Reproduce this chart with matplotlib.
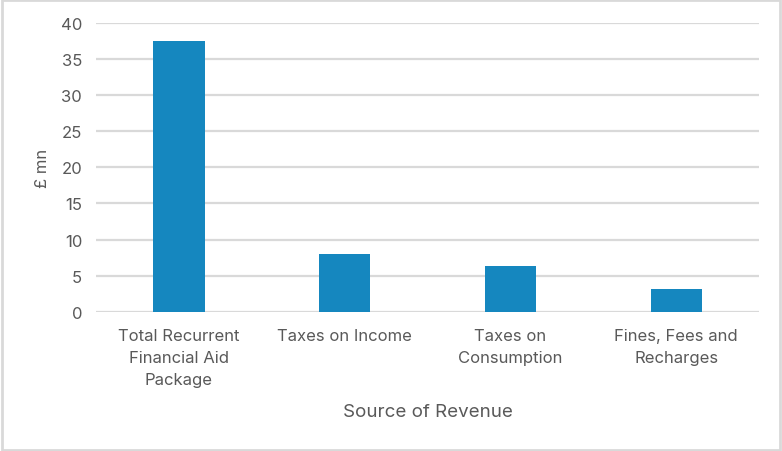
"""
Bar chart of revenue sources (£ mn)
"""

import matplotlib
matplotlib.use('Agg')
import matplotlib.pyplot as plt
from matplotlib.patches import Rectangle

# Data
CATEGORIES = [
    'Total Recurrent\nFinancial Aid\nPackage',
    'Taxes on Income',
    'Taxes on\nConsumption',
    'Fines, Fees and\nRecharges'
]
VALUES = [37.5, 8.0, 6.3, 3.1]
Y_TICKS = [0, 5, 10, 15, 20, 25, 30, 35, 40]

BAR_COLOR = '#1587BF'
TEXT_COLOR = '#595959'
GRID_COLOR = '#D9D9D9'

plt.rcParams['font.family'] = ['Inter', 'DejaVu Sans']

fig = plt.figure(figsize=(7.82, 4.52), dpi=100)
ax = fig.add_axes([0.1228, 0.308, 0.848, 0.6396])

x = range(len(CATEGORIES))
ax.bar(x, VALUES, width=0.31, color=BAR_COLOR, zorder=3)

ax.set_xlim(-0.5, len(CATEGORIES) - 0.5)
ax.set_ylim(0, 40)
ax.set_yticks(Y_TICKS)
ax.set_xticks(list(x))
ax.set_xticklabels(CATEGORIES, fontsize=12, color=TEXT_COLOR, linespacing=1.55)
ax.tick_params(axis='y', labelsize=12, labelcolor=TEXT_COLOR, length=0, pad=10)
ax.tick_params(axis='x', length=0, pad=12)

ax.grid(axis='y', color=GRID_COLOR, linewidth=1.6, zorder=0)
for spine in ax.spines.values():
    spine.set_visible(False)

ax.set_xlabel('Source of Revenue', fontsize=13.5, color=TEXT_COLOR, labelpad=12)
ax.set_ylabel('£ mn', fontsize=12, color=TEXT_COLOR, labelpad=8)

# Light border around the whole chart
fig.patches.append(Rectangle((0.002, 0.003), 0.996, 0.994, transform=fig.transFigure,
                             fill=False, edgecolor='#D9D9D9', linewidth=2))

fig.savefig('out.png', dpi=100)
